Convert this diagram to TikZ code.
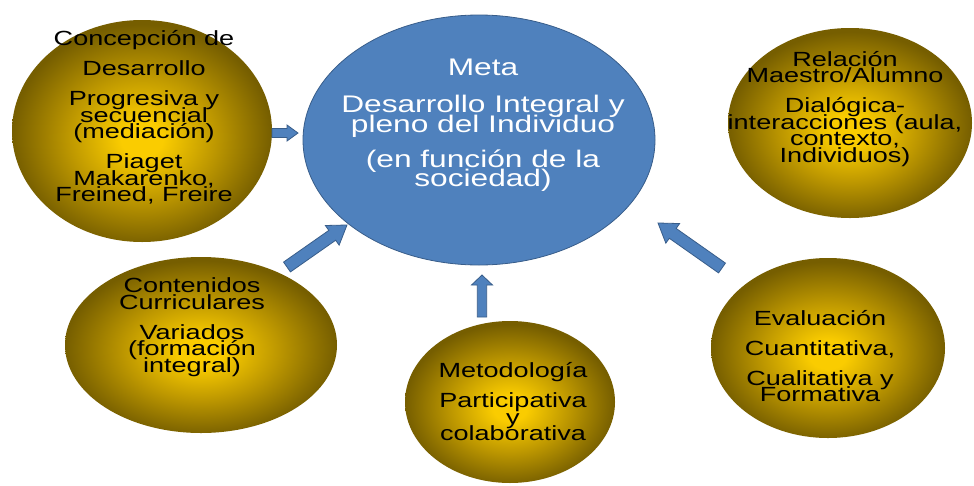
\documentclass[tikz,border=0pt]{standalone}
\usepackage{fontspec}
\setmainfont{Liberation Sans}[FakeStretch=1.32]
\usetikzlibrary{shapes.geometric,calc}
\definecolor{gIn}{RGB}{250,204,0}
\definecolor{gMid}{RGB}{190,152,0}
\definecolor{gOut}{RGB}{118,94,0}
\definecolor{blueF}{RGB}{79,129,189}
\definecolor{blueD}{RGB}{56,93,138}
\pgfdeclareradialshading{goldshade}{\pgfpoint{0bp}{-2bp}}{color(0bp)=(gIn); color(4bp)=(gIn); color(14bp)=(gMid); color(25bp)=(gOut); color(50bp)=(gOut)}
\newcommand\goldfont{\fontsize{20.5}{16.5}\selectfont\lineskiplimit=-100pt\lineskip=0pt\relax}
\newcommand\metafont{\fontsize{24}{19.5}\selectfont\lineskiplimit=-100pt\lineskip=0pt\relax}
\newcommand\blockarrow[5]{%
  \coordinate (bah) at ($(#2)!#5!(#1)$);
  \draw[barrow] ($(#1)!#3!90:(#2)$) -- ($(bah)!#3!90:(#2)$) -- ($(bah)!#4!90:(#2)$) -- (#2)
    -- ($(bah)!#4!-90:(#2)$) -- ($(bah)!#3!-90:(#2)$) -- ($(#1)!#3!-90:(#2)$) -- cycle;
}
\tikzset{
  goldell/.style={ellipse, shade, shading=goldshade, inner sep=0pt, draw=none},
  metaell/.style={ellipse, fill=blueF, draw=blueD, line width=0.8pt, inner sep=0pt},
  gtext/.style={align=center, inner sep=0pt, text=black, font=\goldfont},
  mtext/.style={align=center, inner sep=0pt, text=white, font=\metafont},
  barrow/.style={fill=blueF, draw=blueD, line width=0.8pt, line join=miter},
}
\begin{document}
\begin{tikzpicture}[x=1pt,y=1pt]
\useasboundingbox (0,0) rectangle (974,-485);
\fill[white] (0,0) rectangle (974,-485);
% ellipses
\node[goldell, minimum width=260, minimum height=222] (concep) at (142,-131) {};
\node[metaell, minimum width=352, minimum height=250] (meta) at (479,-140) {};
\node[goldell, minimum width=244, minimum height=190] (rel) at (850,-123) {};
\node[goldell, minimum width=272, minimum height=176] (cont) at (201,-345) {};
\node[goldell, minimum width=210, minimum height=162] (metod) at (510,-402) {};
\node[goldell, minimum width=234, minimum height=180] (eval) at (828,-348) {};
% arrows
\coordinate (a1s) at (272,-133); \coordinate (a1e) at (298,-133);
\coordinate (a2s) at (287,-267); \coordinate (a2e) at (347,-225);
\coordinate (a3s) at (482,-317); \coordinate (a3e) at (482,-275);
\coordinate (a4s) at (722,-268); \coordinate (a4e) at (658,-223);
\blockarrow{a1s}{a1e}{4.5pt}{8pt}{11pt}
\blockarrow{a2s}{a2e}{6pt}{12pt}{18pt}
\blockarrow{a3s}{a3e}{4.7pt}{10.5pt}{10pt}
\blockarrow{a4s}{a4e}{6pt}{12pt}{18pt}
% texts
\node[gtext] (concept) at (144,-117.5) {Concepción de\\[13.5pt]Desarrollo\\[13.5pt]Progresiva y\\secuencial\\(mediación)\\[13.5pt]Piaget\\Makarenko,\\Freined, Freire};
\node[mtext] (metat) at (483,-125) {Meta\\[18pt]Desarrollo Integral y\\pleno del Individuo\\[15.5pt](en función de la\\sociedad)};
\node[gtext] (relt) at (845,-109) {Relación\\Maestro/Alumno\\[13.5pt]Dialógica-\\interacciones (aula,\\contexto,\\Individuos)};
\node[gtext] (contt) at (192,-327) {Contenidos\\Curriculares\\[13.5pt]Variados\\(formación\\integral)};
\node[gtext] (metodt) at (513,-402) {Metodología\\[13.5pt]Participativa\\y\\colaborativa};
\node[gtext] (evalt) at (820,-356) {Evaluación\\[13.5pt]Cuantitativa,\\[13.5pt]Cualitativa y\\Formativa};
\end{tikzpicture}
\end{document}
